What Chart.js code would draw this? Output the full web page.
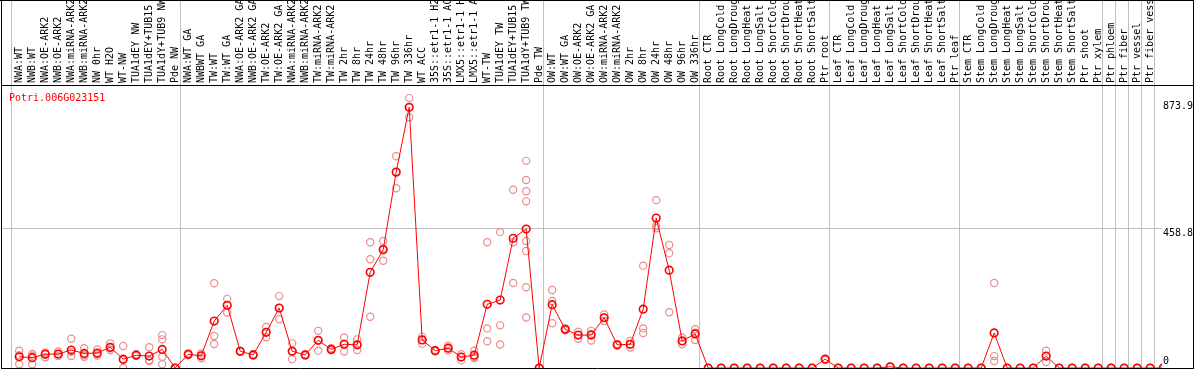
<!DOCTYPE html>
<html>
<head>
<meta charset="utf-8">
<title>Potri.006G023151</title>
<script src="https://cdn.jsdelivr.net/npm/chart.js@4.4.1/dist/chart.umd.min.js"></script>
<style>
    html, body { margin: 0; padding: 0; background: #fff; }
    #wrap { position: relative; width: 1194px; height: 370px; }
</style>
</head>
<body>
<div id="wrap"><canvas id="expr-chart" width="1194" height="370"></canvas></div>
<script>
const geneId = 'Potri.006G023151';

// sample names, left to right
const samples = [
    'NWA:WT', 'NWB:WT', 'NWA:OE-ARK2', 'NWB:OE-ARK2', 'NWA:miRNA-ARK2', 'NWB:miRNA-ARK2',
    'NW 0hr', 'WT H2O', 'WT-NW', 'TUA1dEY NW', 'TUA1dEY+TUB15 NW', 'TUA1dY+TUB9 NW', 'Pde NW',
    'NWA:WT GA', 'NWBWT GA', 'TW:WT', 'TW:WT GA', 'NWA:OE-ARK2 GA', 'NWB:OE-ARK2 GA',
    'TW:OE-ARK2', 'TW:OE-ARK2 GA', 'NWA:miRNA-ARK2 GA', 'NWB:miRNA-ARK2 GA', 'TW:miRNA-ARK2',
    'TW:miRNA-ARK2 GA', 'TW 2hr', 'TW 8hr', 'TW 24hr', 'TW 48hr', 'TW 96hr', 'TW 336hr',
    'WT ACC', '35S::etr1-1 H2O', '35S::etr1-1 ACC', 'LMX5::etr1-1 H2O', 'LMX5::etr1-1 ACC',
    'WT-TW', 'TUA1dEY TW', 'TUA1dEY+TUB15 TW', 'TUA1dY+TUB9 TW', 'Pde TW',
    'OW:WT', 'OW:WT GA', 'OW:OE-ARK2', 'OW:OE-ARK2 GA', 'OW:miRNA-ARK2', 'OW:miRNA-ARK2 GA',
    'OW 2hr', 'OW 8hr', 'OW 24hr', 'OW 48hr', 'OW 96hr', 'OW 336hr',
    'Root CTR', 'Root LongCold', 'Root LongDrought', 'Root LongHeat', 'Root LongSalt',
    'Root ShortCold', 'Root ShortDrought', 'Root ShortHeat', 'Root ShortSalt', 'Ptr root',
    'Leaf CTR', 'Leaf LongCold', 'Leaf LongDrought', 'Leaf LongHeat', 'Leaf LongSalt',
    'Leaf ShortCold', 'Leaf ShortDrought', 'Leaf ShortHeat', 'Leaf ShortSalt', 'Ptr leaf',
    'Stem CTR', 'Stem LongCold', 'Stem LongDrought', 'Stem LongHeat', 'Stem LongSalt',
    'Stem ShortCold', 'Stem ShortDrought', 'Stem ShortHeat', 'Stem ShortSalt', 'Ptr shoot',
    'Ptr xylem', 'Ptr phloem', 'Ptr fiber', 'Ptr vessel', 'Ptr fiber vessel'
];

// how many samples each separated block holds
const groupSizes = [13, 28, 12, 10, 10, 11, 1, 1, 1, 1];

// mean expression per sample
const means = [
    37, 34, 45, 46, 59, 48, 49, 68, 29, 42, 39, 61, 0,
    45, 40, 154, 206, 55, 43, 117, 197, 55, 43, 91, 61, 78, 76, 314, 388, 643, 856,
    92, 57, 65, 36, 42, 209, 223, 426, 456, 0,
    208, 127, 108, 108, 165, 76, 78, 193, 492, 321, 89, 112,
    0, 0, 0, 0, 0, 0, 0, 0, 0, 29,
    0, 0, 0, 0, 4, 0, 0, 0, 0, 0,
    0, 0, 115, 0, 0, 0, 39, 0, 0, 0, 0,
    0, 0, 0, 0, 0
];

// individual replicate values per sample
const replicates = [
    [57, 42, 12], [46, 40, 12], [51, 48, 35], [54, 45, 39], [96, 53, 39], [65, 42, 37],
    [61, 45, 41], [81, 65, 59], [72, 26, 0], [45, 42, 40], [68, 26, 23], [108, 94, 37, 12], [0, 0, 0],
    [48, 45, 42], [48, 40, 32], [278, 105, 79], [227, 206, 182], [57, 55, 53], [45, 43, 41],
    [135, 117, 101], [236, 197, 160], [81, 55, 29], [45, 43, 41], [122, 91, 57], [65, 61, 58],
    [100, 80, 54], [94, 76, 59], [413, 357, 168], [417, 393, 352], [695, 643, 590], [886, 856, 823],
    [103, 92, 80], [59, 57, 55], [73, 65, 57], [45, 36, 25], [57, 36, 33],
    [413, 130, 88], [446, 140, 77], [585, 413, 279], [680, 617, 580, 547, 417, 384, 265, 166], [0, 0, 0],
    [256, 220, 147], [130, 127, 124], [119, 108, 96], [122, 112, 90], [176, 165, 154], [78, 76, 74],
    [89, 78, 67], [336, 130, 115], [551, 466, 459], [404, 377, 183], [100, 89, 78], [127, 116, 92],
    [0, 0, 0], [0, 0, 0], [0, 0, 0], [0, 0, 0], [0, 0, 0], [0, 0, 0], [0, 0, 0], [0, 0, 0], [0, 0, 0], [30, 29, 28],
    [0, 0, 0], [0, 0, 0], [0, 0, 0], [0, 0, 0], [5, 4, 3], [0, 0, 0], [0, 0, 0], [0, 0, 0], [0, 0, 0], [0, 0, 0],
    [0, 0, 0], [0, 0, 0], [279, 39, 23], [0, 0, 0], [0, 0, 0], [0, 0, 0], [57, 39, 20], [0, 0, 0], [0, 0, 0],
    [0, 0, 0], [0, 0, 0],
    [0, 0, 0], [0, 0, 0], [0, 0, 0], [0, 0, 0], [0, 0, 0]
];

const yTicks = [0, 458.8, 873.9];
const yGridValue = 458.8;

document.addEventListener('DOMContentLoaded', function() {
    const monoFont = { family: "'DejaVu Sans Mono', 'Liberation Mono', monospace", size: 10 };
    const gridShift = -0.63;   // separators sit a bit left of the midpoint

    const meanPoints = means.map((v, i) => ({ x: i, y: v }));
    const repPoints = [];
    replicates.forEach((reps, i) => reps.forEach(v => repPoints.push({ x: i, y: v })));

    // block edges from the group sizes
    const edges = [0];
    groupSizes.forEach(n => edges.push(edges[edges.length - 1] + n));

    // outer frame, header rule and gene id
    const framePlugin = {
        id: 'frame',
        afterDraw(chart) {
            const { ctx, chartArea, width } = chart;
            ctx.save();
            ctx.strokeStyle = '#000';
            ctx.lineWidth = 1;
            ctx.beginPath();
            ctx.moveTo(0, 0.5); ctx.lineTo(width, 0.5);
            ctx.moveTo(1, chartArea.top + 0.5); ctx.lineTo(width, chartArea.top + 0.5);
            ctx.moveTo(1, chartArea.bottom + 0.5); ctx.lineTo(width, chartArea.bottom + 0.5);
            ctx.moveTo(1.5, 0); ctx.lineTo(1.5, chartArea.bottom + 1);
            ctx.moveTo(width - 0.5, 0); ctx.lineTo(width - 0.5, chartArea.bottom + 1);
            ctx.stroke();
            ctx.fillStyle = '#ff0000';
            ctx.font = "10px 'DejaVu Sans Mono', monospace";
            ctx.textBaseline = 'alphabetic';
            ctx.fillText(geneId, 9, chartArea.top + 16);
            ctx.restore();
        }
    };

    // keep the plot box fixed, whatever room the labels ask for
    function noPad(s) {
        s.paddingLeft = 0;
        s.paddingRight = 0;
        s.paddingTop = 0;
        s.paddingBottom = 0;
    }

    const ctx = document.getElementById('expr-chart').getContext('2d');
    const exprChart = new Chart(ctx, {
        type: 'line',
        data: {
            datasets: [{
                label: geneId,
                data: meanPoints,
                xAxisID: 'x',
                borderColor: '#ff0000',
                borderWidth: 1,
                pointRadius: 3.8,
                pointBorderWidth: 1.6,
                pointBorderColor: '#ff0000',
                pointBackgroundColor: 'rgba(0,0,0,0)',
                tension: 0
            }, {
                label: 'replicates',
                data: repPoints,
                xAxisID: 'x',
                showLine: false,
                pointRadius: 3.6,
                pointBorderWidth: 1.2,
                pointBorderColor: '#ec8c8c',
                pointBackgroundColor: 'rgba(0,0,0,0)'
            }]
        },
        options: {
            responsive: false,
            animation: false,
            layout: { autoPadding: false, padding: { left: 1, right: 0, top: 0, bottom: 2 } },
            plugins: {
                legend: { display: false },
                tooltip: { enabled: false }
            },
            scales: {
                x: {
                    type: 'linear',
                    position: 'top',
                    weight: 1,
                    min: -1.4,
                    max: 87.91,
                    afterBuildTicks: s => { s.ticks = samples.map((_, i) => ({ value: i })); },
                    afterFit: s => { s.height = 85; noPad(s); },
                    grid: { display: false, drawTicks: false },
                    border: { display: false },
                    ticks: {
                        autoSkip: false,
                        minRotation: 90,
                        maxRotation: 90,
                        padding: 2,
                        labelOffset: 12,
                        color: '#000',
                        font: monoFont,
                        callback: v => samples[v]
                    }
                },
                xg: {
                    type: 'linear',
                    position: 'top',
                    weight: 0,
                    min: -1.4,
                    max: 87.91,
                    afterBuildTicks: s => { s.ticks = edges.map(k => ({ value: k + gridShift })); },
                    afterFit: s => { s.height = 0; noPad(s); },
                    grid: { color: '#c0c0c0', lineWidth: 1, drawTicks: true, tickLength: 85 },
                    border: { display: false },
                    ticks: { display: false }
                },
                y: {
                    position: 'right',
                    min: 0,
                    max: 929,
                    afterBuildTicks: s => { s.ticks = yTicks.map(v => ({ value: v })); },
                    afterFit: s => { s.width = 32; noPad(s); },
                    grid: {
                        color: c => (c.tick && c.tick.value === yGridValue) ? '#c0c0c0' : 'rgba(0,0,0,0)',
                        drawTicks: false
                    },
                    border: { display: false },
                    ticks: {
                        align: 'start',
                        padding: 1,
                        color: '#000',
                        font: monoFont,
                        callback: v => v === 0 ? ['0', '', ''] : String(v)
                    }
                }
            }
        },
        plugins: [framePlugin]
    });
});
</script>
</body>
</html>
